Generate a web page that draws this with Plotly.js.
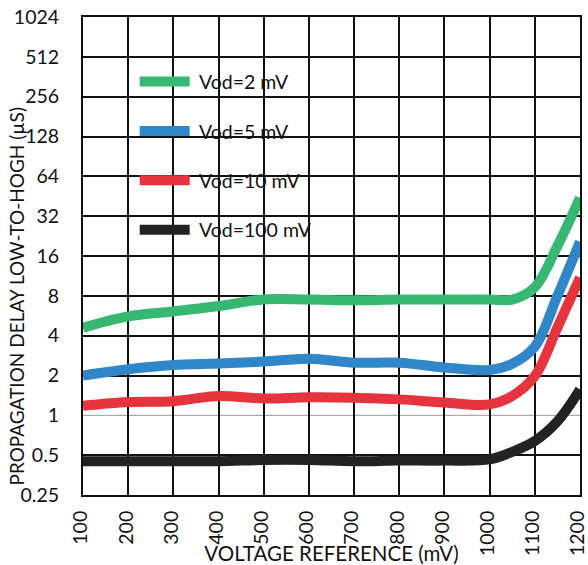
<!DOCTYPE html>
<html>
<head>
<meta charset="utf-8">
<script src="https://cdn.plot.ly/plotly-3.0.1.min.js"></script>
<style>html,body{margin:0;padding:0;background:#fff;}#chart{width:588px;height:565px;}</style>
</head>
<body>
<div id="chart"></div>
<script>
// Data
const vref = [100, 200, 300, 400, 500, 600, 700, 800, 900, 1000, 1050, 1100, 1150, 1200];
const vod2   = [4.6, 5.6, 6.1, 6.7, 7.5, 7.5, 7.4, 7.5, 7.5, 7.5, 7.5, 9.3, 19, 44];
const vod5   = [2.0, 2.23, 2.4, 2.46, 2.55, 2.68, 2.5, 2.5, 2.3, 2.2, 2.45, 3.3, 8, 20.5];
const vod10  = [1.18, 1.26, 1.28, 1.4, 1.34, 1.37, 1.36, 1.32, 1.25, 1.21, 1.4, 1.98, 4.6, 11];
const vod100 = [0.45, 0.45, 0.45, 0.45, 0.46, 0.46, 0.45, 0.455, 0.455, 0.465, 0.53, 0.64, 0.9, 1.57];
const seriesNames = ["Vod=2 mV", "Vod=5 mV", "Vod=10 mV", "Vod=100 mV"];
const yTickVals = [0.25, 0.5, 1, 2, 4, 8, 16, 32, 64, 128, 256, 512, 1024];
const yTickText = ["0.25", "0.5", "1", "2", "4", "8", "16", "32", "64", "128", "256", "512", "1024"];
const xTickVals = [100, 200, 300, 400, 500, 600, 700, 800, 900, 1000, 1100, 1200];

const colors = ["#36b772", "#2f86c8", "#e5343e", "#222222"];
const ys = [vod2, vod5, vod10, vod100];
const FONT = "Lato, 'Open Sans', sans-serif";
const FS = 19.5;

const traces = ys.map((y, i) => ({
  x: vref, y: y, type: "scatter", mode: "lines",
  name: "\u00a0" + seriesNames[i],
  legendgroup: "g" + i,
  line: {color: colors[i], width: 10, shape: "spline", smoothing: 1},
}));

const layout = {
  width: 588, height: 565,
  margin: {l: 83, r: 8, t: 17, b: 70},
  paper_bgcolor: "#fff", plot_bgcolor: "#fff",
  font: {family: FONT, color: "#111", size: FS},
  showlegend: true,
  legend: {x: 0.104, y: 0.905, xanchor: "left", yanchor: "top", bgcolor: "rgba(0,0,0,0)",
           font: {family: FONT, size: FS, color: "#111"}, tracegroupgap: 21, itemwidth: 50},
  xaxis: {
    type: "linear", range: [100, 1200], tickvals: xTickVals, tickangle: -90,
    showgrid: true, gridcolor: "#111", gridwidth: 2,
    showline: true, linecolor: "#111", linewidth: 2, mirror: true,
    ticks: "", ticklabelstandoff: 6, ticklabelshift: -2, zeroline: false, ticklabeloverflow: "allow",
    tickfont: {family: FONT, size: FS, color: "#111"},
    title: {text: "VOLTAGE REFERENCE (mV)", font: {family: FONT, size: 20.5, color: "#111"}, standoff: 0}
  },
  yaxis: {
    type: "log", range: [Math.log10(0.25), Math.log10(1024)],
    tickvals: yTickVals, ticktext: yTickText, showgrid: false,
    minor: {tickvals: yTickVals.filter(v => v !== 1), showgrid: true, gridcolor: "#111", gridwidth: 2, ticks: ""},
    showline: true, linecolor: "#111", linewidth: 2, mirror: true,
    ticks: "", ticklabelstandoff: 18, zeroline: false,
    tickfont: {family: FONT, size: FS, color: "#111"}
  },
  shapes: [{type: "line", xref: "paper", x0: 0, x1: 1, yref: "y", y0: 1, y1: 1,
            layer: "below", line: {color: "#999", width: 1}}],
  annotations: [{text: "PROPAGATION DELAY LOW-TO-HOGH (µS)", xref: "paper", yref: "paper",
                 x: -0.133, y: 0.415, textangle: -90, showarrow: false,
                 xanchor: "center", yanchor: "middle",
                 font: {family: FONT, size: 19, color: "#111"}}]
};

Plotly.newPlot("chart", traces, layout, {displayModeBar: false, staticPlot: true});
</script>
</body>
</html>
